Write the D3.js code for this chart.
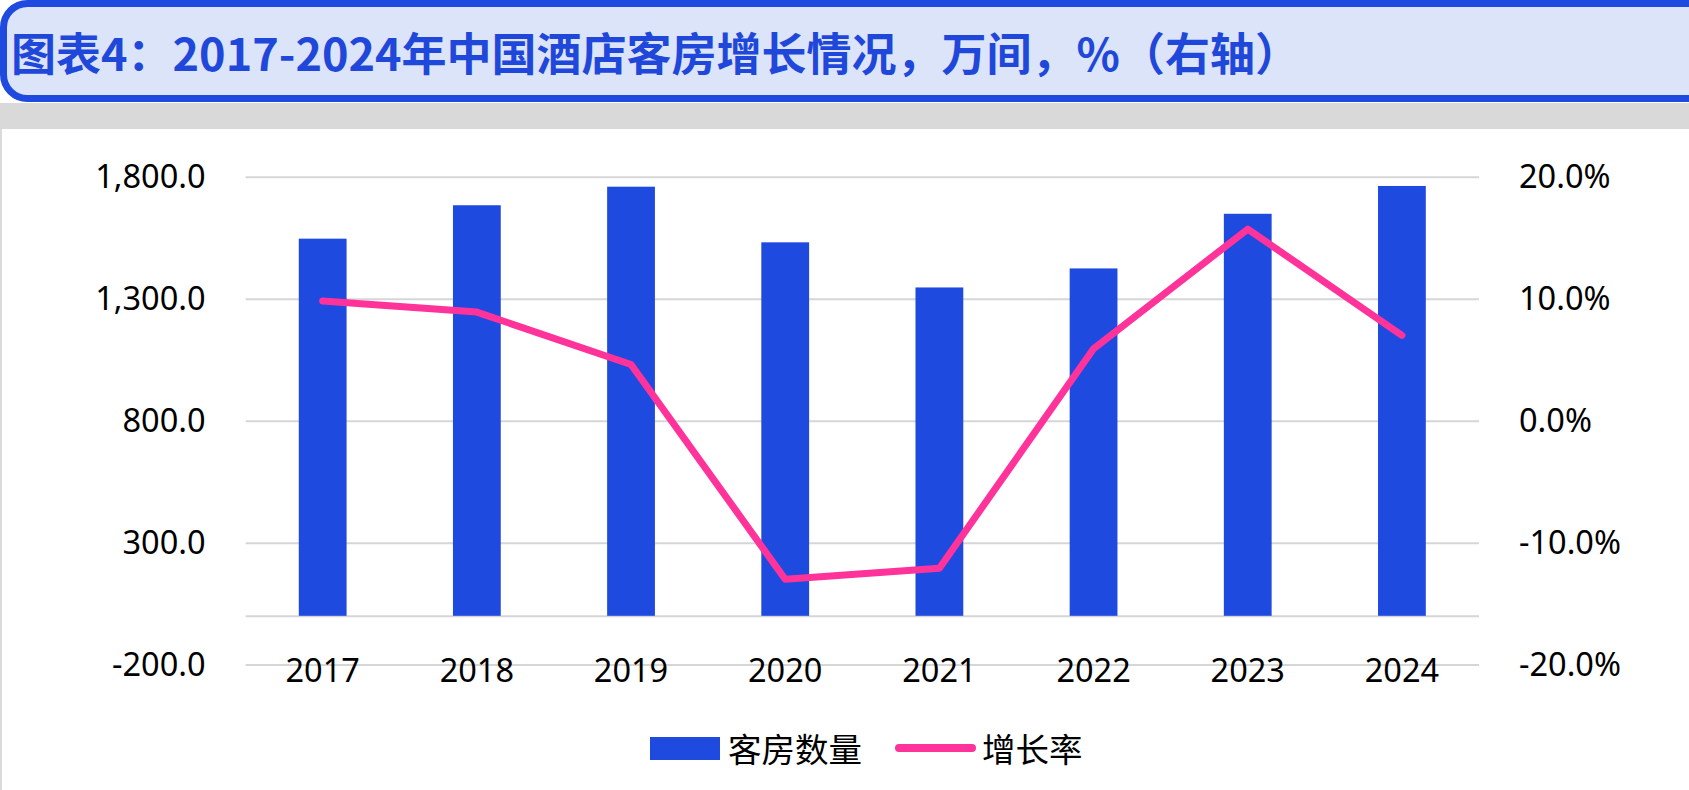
<!DOCTYPE html>
<html>
<head>
<meta charset="utf-8">
<script src="https://cdn.jsdelivr.net/npm/d3@7"></script>
<style>
  body { margin: 0; background: #fff; }
  #svg-container { width: 1689px; height: 790px; }
  text { font-family: "Noto Sans", "Noto Sans CJK SC", sans-serif; }
  .cjk { font-family: "Noto Sans CJK SC", sans-serif; }
</style>
</head>
<body>
<div id="svg-container"></div>
<script>
// data
const years = ["2017", "2018", "2019", "2020", "2021", "2022", "2023", "2024"];
const rooms = [1546, 1683, 1759, 1531, 1346, 1424, 1648, 1762]; // 万间
const growth = [9.8, 8.9, 4.6, -13.0, -12.1, 5.9, 15.7, 7.0]; // %
const leftTicks = [-200, 300, 800, 1300, 1800];
const rightTicks = [-20, -10, 0, 10, 20];
const seriesNames = ["客房数量", "增长率"];
const title = "图表4：2017-2024年中国酒店客房增长情况，万间，%（右轴）";

const barColor = "#1f4ae0";
const lineColor = "#ff3399";
const gridColor = "#d6d6d6";

////////////////////////////  Init  ///////////////////////////////
const width = 1689;
const height = 790;
const margin = { top: 176.7, right: 210, bottom: 125.4, left: 245.6 };

// plain hyphen for negatives, like the original
const locale = d3.formatLocale({
  decimal: ".",
  thousands: ",",
  grouping: [3],
  currency: ["", ""],
  minus: "-",
});

const svg = d3
  .select("#svg-container")
  .append("svg")
  .attr("width", width)
  .attr("height", height);

// header frame
svg.append("rect")
  .attr("x", 0).attr("y", 103)
  .attr("width", width).attr("height", 26)
  .attr("fill", "#d9d9d9");

svg.append("rect")
  .attr("x", 0).attr("y", 129)
  .attr("width", 2).attr("height", height - 129)
  .attr("fill", "#dadada");

svg.append("rect")
  .attr("x", 3.5).attr("y", 3.5)
  .attr("width", width + 40).attr("height", 95)
  .attr("rx", 24)
  .attr("fill", "#dbe4f9")
  .attr("stroke", barColor)
  .attr("stroke-width", 7);

svg.append("text")
  .attr("class", "cjk")
  .attr("x", 11)
  .attr("y", 51)
  .attr("dominant-baseline", "central")
  .attr("fill", "#1f48da")
  .style("font-size", "45px")
  .style("font-weight", 700)
  .text(title);

// scales
const xScale = d3
  .scaleBand()
  .domain(years)
  .range([margin.left, width - margin.right])
  .paddingInner(0.69)
  .paddingOuter(0.345);

const yLeft = d3
  .scaleLinear()
  .domain([-200, 1800])
  .range([height - margin.bottom, margin.top]);

const yRight = d3
  .scaleLinear()
  .domain([-20, 20])
  .range([height - margin.bottom, margin.top]);

// grid
const grid = d3
  .axisLeft(yLeft)
  .tickValues(leftTicks.concat([0]))
  .tickSize(-(width - margin.left - margin.right))
  .tickFormat("");

svg.append("g")
  .attr("class", "grid")
  .attr("transform", `translate(${margin.left}, 0)`)
  .call(grid)
  .call((g) => g.select(".domain").remove())
  .call((g) => g.selectAll("line").attr("stroke", gridColor).attr("stroke-width", 2));

// bars
svg.selectAll(".bar")
  .data(years)
  .enter()
  .append("rect")
  .attr("class", "bar")
  .attr("x", (d) => xScale(d))
  .attr("y", (d, i) => yLeft(rooms[i]))
  .attr("width", xScale.bandwidth())
  .attr("height", (d, i) => yLeft(0) - yLeft(rooms[i]))
  .attr("fill", barColor);

// line
const line = d3
  .line()
  .x((d, i) => xScale(years[i]) + xScale.bandwidth() / 2)
  .y((d) => yRight(d));

svg.append("path")
  .datum(growth)
  .attr("d", line)
  .attr("fill", "none")
  .attr("stroke", lineColor)
  .attr("stroke-width", 7)
  .attr("stroke-linejoin", "round")
  .attr("stroke-linecap", "round");

// axes
const yAxisLeft = d3
  .axisLeft(yLeft)
  .tickValues(leftTicks)
  .tickSize(0)
  .tickPadding(40)
  .tickFormat(locale.format(",.1f"));

const yAxisRight = d3
  .axisRight(yRight)
  .tickValues(rightTicks)
  .tickSize(0)
  .tickPadding(40)
  .tickFormat((d) => d.toFixed(1) + "%");

const xAxis = d3.axisBottom(xScale).tickSize(0).tickPadding(43);

function styleAxis(g) {
  g.select(".domain").remove();
  g.selectAll("text")
    .attr("fill", "#000")
    .style("font-size", "32.5px")
    .style("font-family", '"Noto Sans", sans-serif');
}

svg.append("g")
  .attr("class", "y-axis-left")
  .attr("transform", `translate(${margin.left}, 0)`)
  .call(yAxisLeft)
  .call(styleAxis);

svg.append("g")
  .attr("class", "y-axis-right")
  .attr("transform", `translate(${width - margin.right}, 0)`)
  .call(yAxisRight)
  .call(styleAxis);

svg.append("g")
  .attr("class", "x-axis")
  .attr("transform", `translate(0, ${yLeft(0)})`)
  .call(xAxis)
  .call(styleAxis);

// legend
const legend = svg.append("g").attr("class", "legend");

legend.append("rect")
  .attr("x", 650).attr("y", 737)
  .attr("width", 70).attr("height", 23)
  .attr("fill", barColor);

legend.append("text")
  .attr("class", "cjk")
  .attr("x", 728).attr("y", 747)
  .attr("dominant-baseline", "central")
  .style("font-size", "33.5px")
  .text(seriesNames[0]);

legend.append("line")
  .attr("x1", 899).attr("x2", 972)
  .attr("y1", 748).attr("y2", 748)
  .attr("stroke", lineColor)
  .attr("stroke-width", 8)
  .attr("stroke-linecap", "round");

legend.append("text")
  .attr("class", "cjk")
  .attr("x", 982).attr("y", 747)
  .attr("dominant-baseline", "central")
  .style("font-size", "33.5px")
  .text(seriesNames[1]);
</script>
</body>
</html>
